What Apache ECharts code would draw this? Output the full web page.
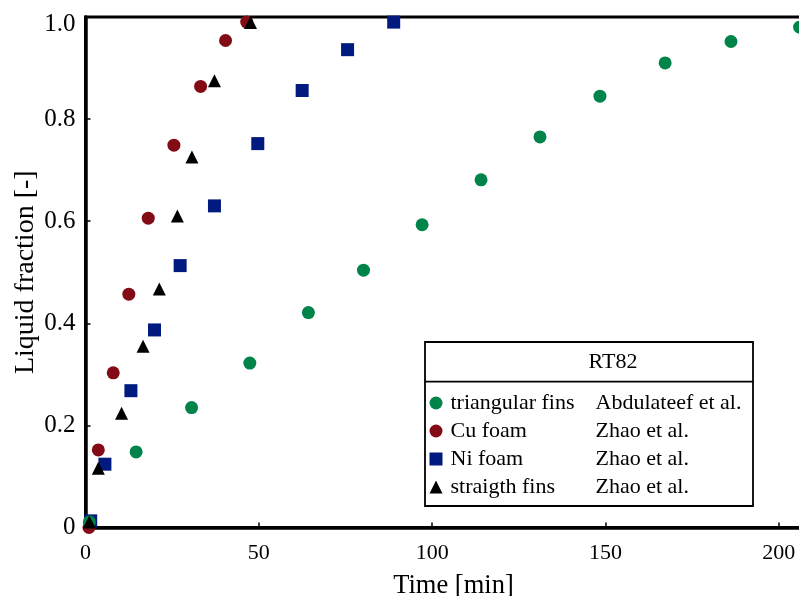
<!DOCTYPE html>
<html>
<head>
<meta charset="utf-8">
<script src="https://cdn.jsdelivr.net/npm/echarts@6/dist/echarts.min.js"></script>
<style>html,body{margin:0;padding:0;background:#fff}#c{width:799px;height:596px}</style>
</head>
<body>
<div id="c"></div>
<script>
// Triangular fins (Abdulateef et al.)
var triX = [1.1, 14.6, 30.6, 47.4, 64.3, 80.2, 97.1, 114.1, 131.1, 148.4, 167.2, 186.2, 206];
var triY = [0.011, 0.148, 0.235, 0.322, 0.421, 0.504, 0.593, 0.681, 0.765, 0.845, 0.910, 0.952, 0.980];
// Cu foam (Zhao et al.)
var cuX = [1.0, 3.7, 8.0, 12.5, 18.1, 25.5, 33.2, 40.4, 46.5];
var cuY = [0.0, 0.152, 0.303, 0.457, 0.606, 0.749, 0.864, 0.954, 0.990];
// Ni foam (Zhao et al.)
var niX = [1.5, 5.6, 13.1, 19.9, 27.3, 37.2, 49.7, 62.5, 75.6, 88.9];
var niY = [0.013, 0.124, 0.268, 0.387, 0.513, 0.630, 0.752, 0.856, 0.936, 0.990];
// Straight fins (Zhao et al.)
var sfX = [1.1, 3.7, 10.4, 16.6, 21.3, 26.5, 30.7, 37.2, 47.6];
var sfY = [0.011, 0.116, 0.224, 0.355, 0.467, 0.610, 0.726, 0.875, 0.989];

var names = ['triangular fins', 'Cu foam', 'Ni foam', 'straigth fins'];
var sources = ['Abdulateef et al.', 'Zhao et al.', 'Zhao et al.', 'Zhao et al.'];
var legendTitle = 'RT82';
var xTicks = [0, 50, 100, 150, 200];
var yTicks = [0, 0.2, 0.4, 0.6, 0.8, 1.0];

function pairs(xs, ys) { return xs.map(function (x, i) { return [x, ys[i]]; }); }

var FONT = '"Liberation Serif", "Times New Roman", serif';
var chart = echarts.init(document.getElementById('c'), null, { renderer: 'canvas' });

var sourceOf = {};
names.forEach(function (n, i) { sourceOf[n] = sources[i]; });

chart.setOption({
  animation: false,
  backgroundColor: '#fff',
  grid: {
    left: 85.5, top: 17, right: -14.5, bottom: 68.5,
    containLabel: false, outerBoundsMode: 'none',
    show: true, borderColor: '#000', borderWidth: 3
  },
  xAxis: {
    type: 'value', min: 0, max: 210, interval: 50,
    name: 'Time [min]', nameLocation: 'middle', nameGap: 45,
    nameTextStyle: { fontFamily: FONT, fontSize: 26.5, color: '#000', padding: [0, 0, 0, 8] },
    axisLine: { show: true, onZero: false, lineStyle: { color: '#000', width: 3.5 } },
    axisTick: { show: true, inside: true, length: 5, lineStyle: { color: '#000', width: 1.5 } },
    axisLabel: {
      fontFamily: FONT, fontSize: 22, color: '#000', margin: 15, showMaxLabel: false,
      formatter: function (v) { return xTicks.indexOf(v) >= 0 ? String(v) : ''; }
    },
    splitLine: { show: false }
  },
  yAxis: {
    type: 'value', min: 0, max: 1, interval: 0.2,
    name: 'Liquid fraction [-]', nameLocation: 'middle', nameGap: 45.5, nameMoveOverlap: false,
    nameTextStyle: { fontFamily: FONT, fontSize: 28, color: '#000' },
    axisLine: { show: true, onZero: false, lineStyle: { color: '#000', width: 3.5 } },
    axisTick: { show: true, inside: true, length: 5, lineStyle: { color: '#000', width: 1.5 } },
    axisLabel: {
      fontFamily: FONT, fontSize: 25, color: '#000', margin: 10,
      rich: { top: { fontFamily: FONT, fontSize: 25, color: '#000', padding: [14, 0, 0, 0] } },
      formatter: function (v) {
        var t = yTicks.filter(function (k) { return Math.abs(k - v) < 1e-9; });
        if (!t.length) return '';
        if (v === 0) return '0';
        if (Math.abs(v - 1) < 1e-9) return '{top|1.0}';
        return v.toFixed(1);
      }
    },
    splitLine: { show: false }
  },
  legend: {
    show: true,
    data: names,
    orient: 'vertical',
    left: 429.5, top: 392, padding: 0,
    itemWidth: 13, itemHeight: 13, itemGap: 6,
    textStyle: {
      fontFamily: FONT, fontSize: 22, color: '#000', lineHeight: 22,
      rich: {
        a: { fontFamily: FONT, fontSize: 22, color: '#000', width: 145, lineHeight: 22, padding: [0, 0, 0, 3] },
        b: { fontFamily: FONT, fontSize: 22, color: '#000', lineHeight: 22 }
      }
    },
    formatter: function (n) { return '{a|' + n + '}{b|' + sourceOf[n] + '}'; },
    selectedMode: false
  },
  graphic: [
    { type: 'rect', shape: { x: 425, y: 342, width: 328, height: 164 },
      style: { fill: 'rgba(0,0,0,0)', stroke: '#000', lineWidth: 1.8 }, z: 10 },
    { type: 'line', shape: { x1: 425, y1: 381.7, x2: 753, y2: 381.7 },
      style: { stroke: '#000', lineWidth: 1.8 }, z: 10 },
    { type: 'text', x: 613, y: 362, z: 10,
      style: { text: legendTitle, fontFamily: FONT, fontSize: 22, fill: '#000',
               textAlign: 'center', textVerticalAlign: 'middle' } }
  ],
  series: [
    { name: 'Cu foam', type: 'scatter', symbol: 'circle', symbolSize: 13,
      itemStyle: { color: '#820b16', opacity: 1 }, data: pairs(cuX, cuY), z: 2 },
    { name: 'Ni foam', type: 'scatter', symbol: 'rect', symbolSize: 13,
      itemStyle: { color: '#001a80', opacity: 1 }, data: pairs(niX, niY), z: 3 },
    { name: 'triangular fins', type: 'scatter', symbol: 'circle', symbolSize: 13,
      itemStyle: { color: '#00844a', opacity: 1 }, data: pairs(triX, triY), z: 4 },
    { name: 'straigth fins', type: 'scatter', symbol: 'triangle', symbolSize: 13,
      itemStyle: { color: '#000', opacity: 1 }, data: pairs(sfX, sfY), z: 5 }
  ]
});
</script>
</body>
</html>
